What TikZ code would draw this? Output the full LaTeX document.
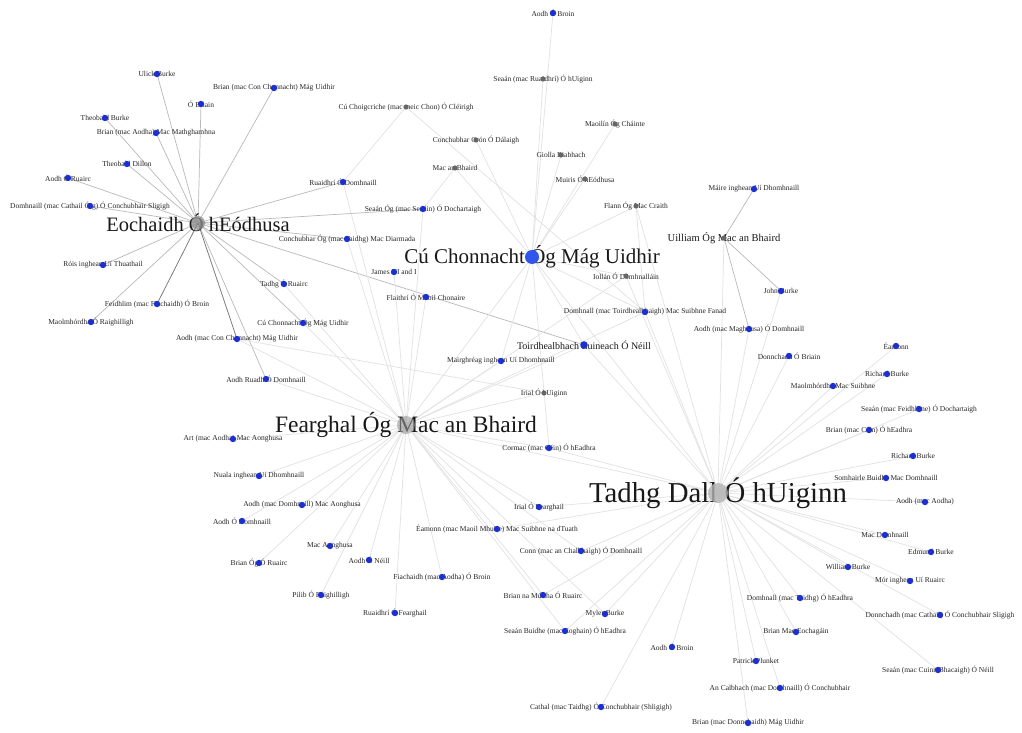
\documentclass[tikz,border=0pt]{standalone}
\usepackage{fontspec}
\setmainfont{Liberation Serif}
\usetikzlibrary{backgrounds}
\definecolor{nodeblue}{RGB}{28,48,210}
\definecolor{hubblue}{RGB}{50,85,235}
\definecolor{edgelight}{RGB}{226,226,226}
\definecolor{edgemid}{RGB}{185,185,185}
\definecolor{edgedark}{RGB}{125,125,125}
\tikzset{
  lbl/.style={font=\fontsize{7.5}{8}\selectfont, inner sep=0pt, text=black!85},
  hub/.style={font=\fontsize{#1}{#1}\selectfont, inner sep=0pt, text=black!90},
  el/.style={draw=edgelight, line width=0.7pt},
  em/.style={draw=edgemid, line width=0.7pt},
  ed/.style={draw=edgedark, line width=0.8pt},
  pdot/.style={fill=nodeblue},
  gdot/.style={fill=black!60},
}
\begin{document}
\begin{tikzpicture}[x=1pt,y=-1pt]
\useasboundingbox (0,0) rectangle (1022,733);
% hubs
\node[hub=20.5] (E) at (198,223) {Eochaidh Ó hEódhusa};
\node[hub=23.5] (F) at (406,425) {Fearghal Óg Mac an Bhaird};
\node[hub=21] (C) at (532,257) {Cú Chonnacht Óg Mág Uidhir};
\node[hub=28.8] (T) at (718,493) {Tadhg Dall Ó hUiginn};
\node[hub=10.5] (U) at (724,238) {Uilliam Óg Mac an Bhaird};
\node[hub=10] (TL) at (584,345) {Toirdhealbhach Luineach Ó Néill};
% Eochaidh group
\node[lbl] (ulick) at (157,74) {Ulick Burke};
\node[lbl] (brmcc) at (274,88) {Brian (mac Con Chonnacht) Mág Uidhir};
\node[lbl] (obr) at (201,104) {Ó Briain};
\node[lbl] (theob) at (105,118) {Theobald Burke};
\node[lbl] (brma) at (156,133) {Brian (mac Aodha) Mac Mathghamhna};
\node[lbl] (theod) at (127,164) {Theobald Dillon};
\node[lbl] (aoru) at (68,178) {Aodh Ó Ruairc};
\node[lbl] (domc) at (90,206) {Domhnaill (mac Cathail Óig) Ó Conchubhair Sligigh};
\node[lbl] (rois) at (103,265) {Róis inghean Uí Thuathail};
\node[lbl] (feid) at (157,304) {Feidhlim (mac Fiachaidh) Ó Broin};
\node[lbl] (maolr) at (91,322) {Maolmhórdha Ó Raighilligh};
\node[lbl] (aomcc) at (237,339) {Aodh (mac Con Chonnacht) Mág Uidhir};
\node[lbl] (cucs) at (303,323) {Cú Chonnacht Óg Mág Uidhir};
\node[lbl] (tadhgoru) at (284,284) {Tadhg Ó Ruairc};
\node[lbl] (aoruadh) at (266,379) {Aodh Ruadh Ó Domhnaill};
\node[lbl] (ruaod) at (343,182) {Ruaidhrí Ó Domhnaill};
\node[lbl] (seog) at (423,209) {Seaán Óg (mac Seaáin) Ó Dochartaigh};
\node[lbl] (conmd) at (347,239) {Conchubhar Óg (mac Taidhg) Mac Diarmada};
\node[lbl] (james) at (394,272) {James VI and I};
\node[lbl] (flaith) at (426,297) {Flaithrí Ó Maoil Chonaire};
% top middle
\node[lbl] (cuchoig) at (406,107) {Cú Choigcriche (mac meic Chon) Ó Cléirigh};
\node[lbl] (conchcron) at (476,140) {Conchubhar Crón Ó Dálaigh};
\node[lbl] (macab) at (455,168) {Mac an Bhaird};
\node[lbl] (aobr1) at (553,13) {Aodh Ó Broin};
\node[lbl] (seanru) at (543,79) {Seaán (mac Ruaidhrí) Ó hUiginn};
\node[lbl] (maoilin) at (615,124) {Maoilín Óg Cháinte};
\node[lbl] (giolla) at (561,155) {Giolla Riabhach};
\node[lbl] (muiris) at (585,179) {Muiris Ó hEódhusa};
\node[lbl] (flann) at (636,206) {Flann Óg Mac Craith};
\node[lbl] (maire) at (754,189) {Máire inghean Uí Dhomhnaill};
% middle
\node[lbl] (iollan) at (626,276) {Iollán Ó Domhnalláin};
\node[lbl] (domsf) at (645,312) {Domhnall (mac Toirdhealbhaigh) Mac Suibhne Fanad};
\node[lbl] (aomag) at (749,329) {Aodh (mac Maghnusa) Ó Domhnaill};
\node[lbl] (john) at (781,291) {John Burke};
\node[lbl] (mair) at (501,361) {Mairghréag inghean Uí Dhomhnaill};
\node[lbl] (irialu) at (544,393) {Irial Ó hUiginn};
\node[lbl] (cormac) at (549,448) {Cormac (mac Céin) Ó hEadhra};
% right group
\node[lbl] (donobr) at (789,356) {Donnchadh Ó Briain};
\node[lbl] (eam2) at (896,346) {Éamonn};
\node[lbl] (rich1) at (887,374) {Richard Burke};
\node[lbl] (maolms) at (833,386) {Maolmhórdha Mac Suibhne};
\node[lbl] (seanfeid) at (919,409) {Seaán (mac Feidhlime) Ó Dochartaigh};
\node[lbl] (briancein) at (869,430) {Brian (mac Céin) Ó hEadhra};
\node[lbl] (rich2) at (913,456) {Richard Burke};
\node[lbl] (somh) at (886,478) {Somhairle Buidhe Mac Domhnaill};
\node[lbl] (aoaodha) at (925,502) {Aodh (mac Aodha)};
\node[lbl] (macdom) at (885,535) {Mac Domhnaill};
\node[lbl] (edmund) at (931,552) {Edmund Burke};
\node[lbl] (william) at (848,567) {William Burke};
\node[lbl] (mor) at (910,581) {Mór inghean Uí Ruairc};
\node[lbl] (domtaidhg) at (800,598) {Domhnall (mac Taidhg) Ó hEadhra};
\node[lbl] (donncath) at (940,615) {Donnchadh (mac Cathail) Ó Conchubhair Sligigh};
\node[lbl] (brianmeo) at (796,632) {Brian Mac Eochagáin};
\node[lbl] (patrick) at (756,661) {Patrick Plunket};
\node[lbl] (seancuinn) at (938,670) {Seaán (mac Cuinn Bhacaigh) Ó Néill};
\node[lbl] (calbhach) at (780,688) {An Calbhach (mac Domhnaill) Ó Conchubhair};
\node[lbl] (brianmd) at (748,723) {Brian (mac Donnchaidh) Mág Uidhir};
% bottom middle
\node[lbl] (aobr2) at (672,647) {Aodh Ó Broin};
\node[lbl] (cathal) at (601,707) {Cathal (mac Taidhg) Ó Conchubhair (Shligigh)};
\node[lbl] (seanbuidhe) at (565,631) {Seaán Buidhe (mac Eoghain) Ó hEadhra};
\node[lbl] (myler) at (605,614) {Myler Burke};
\node[lbl] (brmur) at (543,595) {Brian na Múrtha Ó Ruairc};
\node[lbl] (conn) at (581,551) {Conn (mac an Chalbhaigh) Ó Domhnaill};
\node[lbl] (irialf) at (539,507) {Irial Ó Fearghail};
\node[lbl] (eamonn) at (497,529) {Éamonn (mac Maoil Mhuire) Mac Suibhne na dTuath};
\node[lbl] (fiach) at (442,577) {Fiachaidh (mac Aodha) Ó Broin};
\node[lbl] (ruaf) at (395,613) {Ruaidhrí Ó Fearghail};
\node[lbl] (pilib) at (321,595) {Pilib Ó Raighilligh};
\node[lbl] (aoneill) at (369,560) {Aodh Ó Néill};
\node[lbl] (macaon) at (330,546) {Mac Aonghusa};
\node[lbl] (brianog) at (259,563) {Brian Óg Ó Ruairc};
\node[lbl] (aodom) at (242,521) {Aodh Ó Domhnaill};
\node[lbl] (aomd) at (302,505) {Aodh (mac Domhnaill) Mac Aonghusa};
\node[lbl] (nuala) at (259,476) {Nuala inghean Uí Dhomhnaill};
\node[lbl] (art) at (233,439) {Art (mac Aodha) Mac Aonghusa};
% edges
\begin{pgfonlayer}{background}
\fill[white] (0,0) rectangle (1022,733);
\foreach \a in {rois,maolr,ulick,obr,brmcc,theob,brma,theod,aoru,domc,cucs,tadhgoru,aoruadh,ruaod,seog,conmd,TL}
  \draw[em] (E.center) -- (\a.center);
\foreach \a in {feid,aomcc}
  \draw[ed] (E.center) -- (\a.center);
\foreach \a in {art,nuala,aomd,aodom,macaon,brianog,aoneill,pilib,ruaf,fiach,eamonn,conn,brmur,irialf,cormac,seanbuidhe,aoruadh,aomcc,cucs,tadhgoru,james,flaith,conmd,ruaod,seog,mair,TL,domsf,C,T,irialu,iollan,myler}
  \draw[el] (F.center) -- (\a.center);
\foreach \a in {aobr1,seanru,giolla,muiris,maoilin,flann,conchcron,macab,iollan,domsf,TL,cormac,T,mair}
  \draw[el] (C.center) -- (\a.center);
\foreach \a in {U,john,aomag,donobr,eam2,rich1,maolms,seanfeid,briancein,rich2,somh,aoaodha,macdom,edmund,william,mor,domtaidhg,donncath,brianmeo,patrick,seancuinn,calbhach,brianmd,aobr2,cathal,seanbuidhe,myler,brmur,conn,irialf,cormac,TL,domsf,iollan,eamonn,flann}
  \draw[el] (T.center) -- (\a.center);
\foreach \a in {maire,john,aomag}
  \draw[em] (U.center) -- (\a.center);
\draw[el] (cuchoig.center) -- (ruaod.center);
\draw[el] (cuchoig.center) -- (domsf.center);
\draw[el] (macab.center) -- (seog.center);
\draw[el] (flann.center) -- (domsf.center);
\draw[el] (irialu.center) -- (aomcc.center);
\end{pgfonlayer}
% dots
\foreach \a in {ulick,brmcc,obr,theob,brma,theod,aoru,domc,rois,feid,maolr,aomcc,cucs,tadhgoru,aoruadh,ruaod,seog,conmd,james,flaith,aobr1,maire,domsf,aomag,john,mair,cormac,donobr,eam2,rich1,maolms,seanfeid,briancein,rich2,somh,aoaodha,macdom,edmund,william,mor,domtaidhg,donncath,brianmeo,patrick,seancuinn,calbhach,brianmd,aobr2,cathal,seanbuidhe,myler,brmur,conn,irialf,eamonn,fiach,ruaf,pilib,aoneill,macaon,brianog,aodom,aomd,nuala,art}
  \fill[pdot] (\a.center) circle[radius=3.2pt];
\foreach \a in {cuchoig,conchcron,macab,seanru,maoilin,giolla,muiris,flann,iollan,irialu,U}
  \fill[gdot] (\a.center) circle[radius=2.6pt];
\fill[nodeblue] (TL.center) circle[radius=3.8pt];
\fill[black!45, fill opacity=0.75] (E.center) circle[radius=7pt];
\fill[black!40, fill opacity=0.6] (F.center) circle[radius=9pt];
\fill[hubblue] (C.center) circle[radius=7pt];
\fill[black!30, fill opacity=0.8] (T.center) circle[radius=10pt];
\end{tikzpicture}
\end{document}
